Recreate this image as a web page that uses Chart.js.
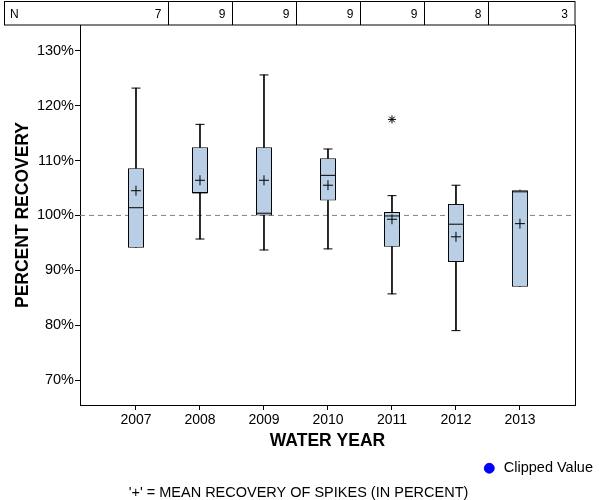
<!DOCTYPE html>
<html lang="en">
<head>
<meta charset="UTF-8">
<title>Percent recovery of spikes by water year</title>
<script src="https://cdn.jsdelivr.net/npm/chart.js"></script>
<style>
  body { margin: 0; background: #fff; }
  #wrap { width: 600px; height: 500px; }
</style>
</head>
<body>
<div id="wrap"><canvas id="grafico"></canvas></div>
<script>
// data
const years = ['2007', '2008', '2009', '2010', '2011', '2012', '2013'];
const counts = [7, 9, 9, 9, 9, 8, 3];
const whiskerLow = [94.1, 95.7, 93.7, 93.9, 85.7, 79.0, 87.0];
const q1 = [94.1, 104.1, 100.0, 102.7, 94.3, 91.5, 87.0];
const median = [101.4, 104.1, 100.4, 107.3, 99.9, 98.4, 104.3];
const q3 = [108.6, 112.4, 112.4, 110.4, 100.6, 102.1, 104.6];
const whiskerHigh = [123.2, 116.6, 125.6, 112.1, 103.6, 105.5, 104.6];
const mean = [104.5, 106.4, 106.4, 105.5, 99.3, 96.1, 98.5];
const outliers = [{ year: '2011', value: 117.5 }];
const yTicks = [70, 80, 90, 100, 110, 120, 130];
const reference = 100;

const idx = years.map((_, i) => i);
const xMin = -0.875, xMax = 6.86;
const yMin = 65.45, yMax = 134.7;

Chart.defaults.font.family = 'Liberation Sans, Arial, sans-serif';
Chart.defaults.color = '#000';

// caps only where the whisker has some length
const caps = [];
idx.forEach(i => {
  if (whiskerHigh[i] > q3[i]) caps.push({ x: i, y: whiskerHigh[i] });
  if (whiskerLow[i] < q1[i]) caps.push({ x: i, y: whiskerLow[i] });
});

// N table above the plot
const tablePlugin = {
  id: 'tabela',
  afterDraw(chart) {
    const ctx = chart.ctx;
    const x = chart.scales.x;
    const area = chart.chartArea;
    const top = 1.5, bottom = area.top;
    ctx.save();
    ctx.strokeStyle = '#000';
    ctx.lineWidth = 1;
    ctx.strokeRect(4.5, top, area.right - 4.5, bottom - top);
    ctx.beginPath();
    const borders = [];
    idx.forEach(i => {
      const xb = i < years.length - 1 ? Math.round(x.getPixelForValue(i + 0.5)) + 0.5 : area.right;
      borders.push(xb);
      if (i < years.length - 1) {
        ctx.moveTo(xb, top);
        ctx.lineTo(xb, bottom);
      }
    });
    ctx.stroke();
    ctx.fillStyle = '#000';
    ctx.font = '12px Liberation Sans, Arial, sans-serif';
    ctx.textBaseline = 'middle';
    ctx.textAlign = 'left';
    ctx.fillText('N', 10, (top + bottom) / 2 + 1);
    ctx.textAlign = 'right';
    counts.forEach((n, i) => ctx.fillText(String(n), borders[i] - 7, (top + bottom) / 2 + 1));
    ctx.restore();
  }
};

new Chart(document.getElementById('grafico'), {
  type: 'bar',
  data: {
    datasets: [
      {
        // dashed 100% line
        type: 'line',
        label: 'ref',
        data: [{ x: xMin, y: reference }, { x: xMax, y: reference }],
        borderColor: '#808080',
        borderWidth: 1,
        borderDash: [5, 4],
        pointRadius: 0,
        order: 10
      },
      {
        label: 'whiskerUp',
        data: idx.map(i => ({ x: i, y: [q3[i], whiskerHigh[i]] })),
        backgroundColor: '#000',
        barThickness: 1,
        grouped: false,
        order: 9
      },
      {
        label: 'whiskerDown',
        data: idx.map(i => ({ x: i, y: [whiskerLow[i], q1[i]] })),
        backgroundColor: '#000',
        barThickness: 1,
        grouped: false,
        order: 9
      },
      {
        label: 'box',
        data: idx.map(i => ({ x: i, y: [q1[i], q3[i]] })),
        backgroundColor: '#b9cfe6',
        borderColor: '#000',
        borderWidth: 1,
        borderSkipped: false,
        inflateAmount: 0,
        barThickness: 16,
        grouped: false,
        order: 8
      },
      {
        type: 'scatter',
        label: 'caps',
        data: caps,
        pointStyle: 'line',
        pointRadius: 4.5,
        borderColor: '#000',
        borderWidth: 1,
        order: 7
      },
      {
        type: 'scatter',
        label: 'median',
        data: idx.map(i => ({ x: i, y: median[i] })),
        pointStyle: 'line',
        pointRadius: 7.5,
        borderColor: '#000',
        borderWidth: 1,
        order: 6
      },
      {
        type: 'scatter',
        label: 'mean',
        data: idx.map(i => ({ x: i, y: mean[i] })),
        pointStyle: 'cross',
        pointRadius: 5,
        borderColor: '#000',
        borderWidth: 1,
        order: 5
      },
      {
        type: 'scatter',
        label: 'outlier',
        data: outliers.map(o => ({ x: years.indexOf(o.year), y: o.value })),
        pointStyle: 'star',
        pointRadius: 4,
        borderColor: '#000',
        borderWidth: 1,
        order: 5
      },
      {
        type: 'scatter',
        label: 'Clipped Value',
        data: [],
        pointStyle: 'circle',
        backgroundColor: '#0000ff',
        borderColor: '#0000ff',
        order: 1
      }
    ]
  },
  options: {
    animation: false,
    responsive: true,
    maintainAspectRatio: false,
    layout: { padding: { top: 25, right: 3, left: 0, bottom: 0 } },
    plugins: {
      tooltip: { enabled: false },
      legend: {
        position: 'bottom',
        align: 'end',
        labels: {
          filter: item => item.text === 'Clipped Value',
          usePointStyle: true,
          boxWidth: 14.5,
          boxHeight: 7,
          padding: 4,
          font: { size: 14.5 }
        }
      },
      title: {
        display: true,
        position: 'bottom',
        text: "'+' = MEAN RECOVERY OF SPIKES (IN PERCENT)",
        font: { size: 14.5, weight: 'normal', lineHeight: 1 },
        color: '#000',
        padding: { top: 0, bottom: 0 }
      }
    },
    scales: {
      x: {
        type: 'linear',
        offset: false,
        min: xMin,
        max: xMax,
        afterBuildTicks: axis => { axis.ticks = idx.map(i => ({ value: i })); },
        afterFit: s => { s.height = 52; },
        ticks: {
          callback: v => years[v],
          font: { size: 14 },
          padding: 2,
          maxRotation: 0
        },
        grid: { offset: false, drawOnChartArea: false, tickLength: 5, color: '#000' },
        border: { color: '#000', width: 1 },
        title: {
          display: true,
          text: 'WATER YEAR',
          font: { size: 17.5, weight: 'bold' },
          padding: { top: 0, bottom: 5 }
        }
      },
      y: {
        min: yMin,
        max: yMax,
        afterBuildTicks: axis => { axis.ticks = yTicks.map(v => ({ value: v })); },
        afterFit: s => { s.width = 80; },
        ticks: {
          callback: v => v + '%',
          font: { size: 14.5 },
          padding: 1
        },
        grid: { drawOnChartArea: false, tickLength: 5, color: '#000' },
        border: { color: '#000', width: 1 },
        title: {
          display: true,
          text: 'PERCENT RECOVERY',
          font: { size: 17.5, weight: 'bold' },
          padding: { top: 13, bottom: 0 }
        }
      },
      // right frame line
      y2: {
        position: 'right',
        min: yMin,
        max: yMax,
        afterFit: s => { s.width = 22; },
        ticks: { display: false },
        grid: { display: false },
        border: { color: '#000', width: 1 }
      }
    }
  },
  plugins: [tablePlugin]
});
</script>
</body>
</html>
